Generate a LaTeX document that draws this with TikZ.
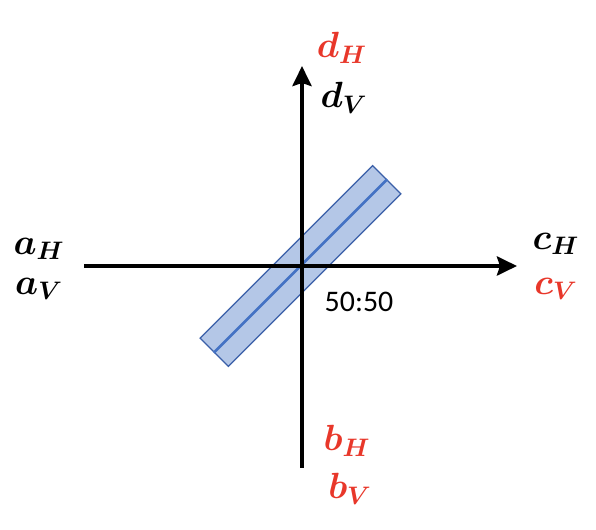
\documentclass[tikz,border=0pt]{standalone}
\usepackage{fontspec}
\newfontfamily\bsfont{Carlito}
\usetikzlibrary{arrows.meta, positioning}
\definecolor{bsred}{HTML}{E8372A}
\definecolor{bsblue}{HTML}{4472C4}
\definecolor{bsedge}{HTML}{3A5FA8}
\definecolor{bsfill}{HTML}{B4C7E7}

\begin{document}
\begin{tikzpicture}[
    x=0.02cm, y=-0.02cm,
    axis/.style={line width=0.08cm, -{Stealth[length=0.4cm, width=0.38cm, inset=0.06cm]}},
    splitter/.style={
        draw=bsedge, fill=bsfill, line width=0.7pt, rotate=45,
        minimum width=4.88cm, minimum height=0.8cm, inner sep=0pt
    },
    port/.style={font=\fontsize{22.5}{27}\selectfont\boldmath, inner sep=0pt},
    hot/.style={port, text=bsred}
]
\useasboundingbox (0,0) rectangle (596,530);

% --- Beam splitter ---
\node[splitter] (bs) at (300.5,266) {};
\draw[bsblue, line width=1.6pt] (bs.west) -- (bs.east);
\node[font=\bsfont\fontsize{17}{20}\selectfont, inner sep=0pt] (ratio) at (359,302) {50:50};

% --- Axes ---
\coordinate (west) at (84,266);
\coordinate (east) at (517,266);
\coordinate (south) at (302,468);
\coordinate (north) at (302,66);
\draw[axis] (west) -- (east);
\draw[axis] (south) -- (north);

% --- Port labels ---
\node[port] (aH) at (39,249) {$a_H$};
\node[port] (aV) at (39,289) {$a_V$};
\node[hot]  (bH) at (347,441) {$b_H$};
\node[hot]  (bV) at (350,489) {$b_V$};
\node[port] (cH) at (556,244) {$c_H$};
\node[hot]  (cV) at (556,289) {$c_V$};
\node[hot]  (dH) at (342,48) {$d_H$};
\node[port] (dV) at (344,98) {$d_V$};

\end{tikzpicture}
\end{document}
